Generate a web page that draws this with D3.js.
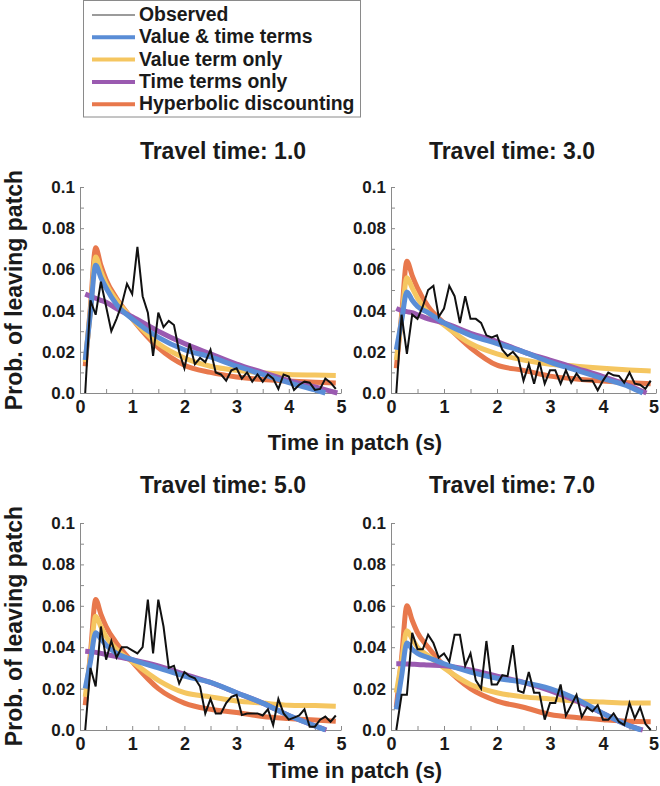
<!DOCTYPE html>
<html>
<head>
<meta charset="utf-8">
<script src="https://cdn.jsdelivr.net/npm/d3@7"></script>
<style>
  html, body { margin: 0; padding: 0; background: #fff; }
  svg { display: block; font-family: "Liberation Sans", Arial, Helvetica, sans-serif; }
</style>
</head>
<body>
<svg id="chart" width="660" height="786"></svg>
<script>
// ---------------- DATA ----------------
const panelTitles = ["Travel time: 1.0", "Travel time: 3.0", "Travel time: 5.0", "Travel time: 7.0"];
const seriesNames = ["Observed", "Value & time terms", "Value term only", "Time terms only", "Hyperbolic discounting"];

const obsTime = [0.1,0.2,0.3,0.4,0.5,0.6,0.7,0.8,0.9,1.0,1.1,1.2,1.3,1.4,1.5,1.6,1.7,1.8,1.9,2.0,
                 2.1,2.2,2.3,2.4,2.5,2.6,2.7,2.8,2.9,3.0,3.1,3.2,3.3,3.4,3.5,3.6,3.7,3.8,3.9,4.0,
                 4.1,4.2,4.3,4.4,4.5,4.6,4.7,4.8,4.9];

const observed1 = [0,0.045,0.038,0.054,0.042,0.030,0.036,0.043,0.053,0.048,0.071,0.047,0.039,0.018,0.039,0.032,0.035,0.033,0.020,0.012,
                   0.024,0.014,0.017,0.015,0.021,0.010,0.009,0.006,0.011,0.012,0.007,0.010,0.0055,0.009,0.0055,0.009,0.007,0.002,0.009,0.008,
                   0.0015,0.004,0.0055,0.005,0.0015,0.002,0.007,0.005,0.002];
const observed2 = [0,0.038,0.019,0.038,0.036,0.042,0.050,0.052,0.037,0.041,0.052,0.047,0.034,0.047,0.036,0.036,0.034,0.028,0.027,0.028,
                   0.021,0.018,0.020,0.017,0.006,0.014,0.0045,0.015,0.0045,0.011,0.011,0.0045,0.011,0.005,0.0094,0.006,0.006,0.006,0.0013,0.006,
                   0.0099,0.0086,0.0083,0.005,0.0099,0.0045,0.004,0.002,0.006];
const observed3 = [0,0.030,0.021,0.050,0.034,0.043,0.035,0.040,0.040,0.0385,0.037,0.040,0.063,0.037,0.063,0.050,0.030,0.031,0.0225,0.028,
                   0.026,0.025,0.021,0.008,0.015,0.008,0.008,0.013,0.016,0.017,0.0072,0.008,0.008,0.008,0.007,0.010,0.0024,0.015,0.008,0.005,
                   0.006,0.007,0.010,0.0016,0.0016,0.005,0.0065,0.004,0.007];
const observed4 = [0,0.017,0.017,0.047,0.039,0.039,0.046,0.042,0.035,0.037,0.033,0.046,0.046,0.031,0.037,0.024,0.020,0.043,0.022,0.022,
                   0.0265,0.026,0.041,0.019,0.018,0.028,0.018,0.018,0.005,0.013,0.013,0.022,0.007,0.012,0.017,0.0064,0.011,0.009,0.012,0.005,
                   0.005,0.008,0.004,0.0024,0.013,0.0056,0.011,0.003,0];

const modelTime = [0.1,0.2,0.3,0.4,0.5,0.7,1.0,1.5,2.0,2.5,3.0,3.5,4.0,4.5,4.9];

const hyperbolic1 = [0.013,0.042,0.0705,0.062,0.055,0.046,0.036,0.022,0.0135,0.010,0.0078,0.0065,0.0058,0.0052,0.0048];
const hyperbolic2 = [0.012,0.038,0.064,0.057,0.051,0.042,0.034,0.022,0.0135,0.011,0.0082,0.0068,0.0058,0.005,0.0045];
const hyperbolic3 = [0.012,0.037,0.063,0.056,0.050,0.042,0.033,0.020,0.013,0.010,0.0085,0.0065,0.0055,0.0048,0.0042];
const hyperbolic4 = [0.011,0.035,0.060,0.053,0.047,0.040,0.031,0.020,0.014,0.011,0.0075,0.006,0.005,0.0042,0.004];

const valueOnly1 = [0.015,0.040,0.066,0.059,0.053,0.045,0.036,0.024,0.017,0.013,0.011,0.0098,0.009,0.0087,0.0085];
const valueOnly2 = [0.016,0.036,0.056,0.051,0.046,0.039,0.033,0.024,0.019,0.016,0.014,0.013,0.012,0.0112,0.0107];
const valueOnly3 = [0.016,0.035,0.055,0.050,0.045,0.039,0.033,0.024,0.018,0.016,0.014,0.013,0.012,0.0118,0.0115];
const valueOnly4 = [0.018,0.033,0.048,0.044,0.040,0.036,0.030,0.022,0.018,0.016,0.015,0.014,0.0135,0.013,0.013];

// last point of these two series is where they reach zero
const valueTimeTime1 = [0.1,0.2,0.3,0.4,0.5,0.7,1.0,1.5,2.0,2.5,3.0,3.5,4.0,4.5,4.70];
const valueTimeTime2 = [0.1,0.2,0.3,0.4,0.5,0.7,1.0,1.5,2.0,2.5,3.0,3.5,4.0,4.5,4.75];
const valueTimeTime3 = [0.1,0.2,0.3,0.4,0.5,0.7,1.0,1.5,2.0,2.5,3.0,3.5,4.0,4.5,4.70];
const valueTimeTime4 = [0.1,0.2,0.3,0.4,0.5,0.7,1.0,1.5,2.0,2.5,3.0,3.5,4.0,4.5,4.72];
const valueTime1 = [0.016,0.039,0.062,0.056,0.051,0.043,0.036,0.027,0.021,0.0175,0.013,0.009,0.005,0.0015,0];
const valueTime2 = [0.021,0.035,0.049,0.045,0.042,0.039,0.034,0.028,0.024,0.020,0.015,0.011,0.007,0.003,0];
const valueTime3 = [0.020,0.033,0.047,0.044,0.041,0.037,0.034,0.030,0.026,0.023,0.018,0.013,0.007,0.002,0];
const valueTime4 = [0.010,0.026,0.042,0.039,0.037,0.035,0.032,0.028,0.025,0.023,0.020,0.015,0.008,0.002,0];

const timeOnlyTime1 = [0.1,0.2,0.3,0.4,0.5,0.7,1.0,1.5,2.0,2.5,3.0,3.5,4.0,4.5,4.93];
const timeOnlyTime2 = [0.1,0.2,0.3,0.4,0.5,0.7,1.0,1.5,2.0,2.5,3.0,3.5,4.0,4.5,4.82];
const timeOnlyTime3 = [0.1,0.2,0.3,0.4,0.5,0.7,1.0,1.5,2.0,2.5,3.0,3.5,4.0,4.5,4.72];
const timeOnlyTime4 = [0.1,0.2,0.3,0.4,0.5,0.7,1.0,1.5,2.0,2.5,3.0,3.5,4.0,4.5,4.75];
const timeOnly1 = [0.048,0.047,0.046,0.045,0.044,0.041,0.037,0.030,0.024,0.019,0.014,0.010,0.006,0.003,0];
const timeOnly2 = [0.041,0.040,0.0395,0.039,0.038,0.036,0.034,0.029,0.025,0.020,0.016,0.012,0.008,0.0035,0];
const timeOnly3 = [0.038,0.0378,0.0375,0.037,0.0365,0.0355,0.034,0.031,0.027,0.023,0.018,0.013,0.007,0.002,0];
const timeOnly4 = [0.032,0.032,0.0319,0.0318,0.0317,0.0314,0.031,0.029,0.026,0.023,0.019,0.014,0.008,0.002,0];

const xTickValues = [0,0.5,1,1.5,2,2.5,3,3.5,4,4.5,5];
const xTickLabels = ["0","","1","","2","","3","","4","","5"];
const yTickValues = [0,0.01,0.02,0.03,0.04,0.05,0.06,0.07,0.08,0.09,0.1];
const yTickLabels = ["0.0","","0.02","","0.04","","0.06","","0.08","","0.1"];

// ---------------- STYLE / LAYOUT ----------------
const colors = {
  observed: "#111111",
  observedLegend: "#7a7a7a",
  valueTime: "#5a8dd6",
  valueOnly: "#f5c660",
  timeOnly: "#9a5ab0",
  hyperbolic: "#e8784c"
};
const legendColors = [colors.observedLegend, colors.valueTime, colors.valueOnly, colors.timeOnly, colors.hyperbolic];

const panels = [
  { x0: 80,  x1: 341, yTop: 187, yBot: 393, titleX: 223, titleY: 159,
    obs: observed1, hyp: hyperbolic1, val: valueOnly1, vtT: valueTimeTime1, vt: valueTime1, toT: timeOnlyTime1, to: timeOnly1 },
  { x0: 391, x1: 656, yTop: 187, yBot: 393, titleX: 512, titleY: 159,
    obs: observed2, hyp: hyperbolic2, val: valueOnly2, vtT: valueTimeTime2, vt: valueTime2, toT: timeOnlyTime2, to: timeOnly2 },
  { x0: 80,  x1: 341, yTop: 523, yBot: 730, titleX: 223, titleY: 493,
    obs: observed3, hyp: hyperbolic3, val: valueOnly3, vtT: valueTimeTime3, vt: valueTime3, toT: timeOnlyTime3, to: timeOnly3 },
  { x0: 391, x1: 656, yTop: 523, yBot: 730, titleX: 512, titleY: 493,
    obs: observed4, hyp: hyperbolic4, val: valueOnly4, vtT: valueTimeTime4, vt: valueTime4, toT: timeOnlyTime4, to: timeOnly4 }
];

const svg = d3.select("#chart");
const FONT = '"Liberation Sans", Arial, Helvetica, sans-serif';

panels.forEach((p, i) => {
  const x = d3.scaleLinear().domain([0, 5]).range([p.x0, p.x1]);
  const y = d3.scaleLinear().domain([0, 0.1]).range([p.yBot, p.yTop]);
  const g = svg.append("g");

  // axes
  const xAxis = d3.axisBottom(x).tickValues(xTickValues)
    .tickFormat((d, k) => xTickLabels[k]).tickSizeInner(-4).tickSizeOuter(0).tickPadding(7);
  const yAxis = d3.axisLeft(y).tickValues(yTickValues)
    .tickFormat((d, k) => yTickLabels[k]).tickSizeInner(-4).tickSizeOuter(0).tickPadding(5);

  const gx = g.append("g").attr("transform", `translate(0,${p.yBot})`).call(xAxis);
  const gy = g.append("g").attr("transform", `translate(${p.x0},0)`).call(yAxis);
  [gx, gy].forEach(a => {
    a.select(".domain").attr("stroke", "#8a8a8a").attr("stroke-width", 1);
    a.selectAll(".tick line").attr("stroke", "#8a8a8a").attr("stroke-width", 1);
    a.selectAll(".tick text").attr("fill", "#1a1a1a").attr("font-family", FONT)
      .attr("font-weight", "bold");
  });
  gx.selectAll(".tick text").attr("font-size", 18);
  gy.selectAll(".tick text").attr("font-size", 17);
  // keep the last x label inside the page on the right-hand panels
  if (p.x1 > 650) gx.selectAll(".tick text").filter(d => d === 5).attr("dx", -2.5);

  // model curves
  const modelLine = d3.line().x(d => x(d[0])).y(d => y(d[1])).curve(d3.curveMonotoneX);
  const curves = [
    { t: modelTime, v: p.hyp, c: colors.hyperbolic },
    { t: modelTime, v: p.val, c: colors.valueOnly },
    { t: p.toT, v: p.to, c: colors.timeOnly },
    { t: p.vtT, v: p.vt, c: colors.valueTime }
  ];
  curves.forEach(cv => {
    g.append("path")
      .datum(cv.t.map((t, k) => [t, cv.v[k]]))
      .attr("d", modelLine)
      .attr("fill", "none")
      .attr("stroke", cv.c)
      .attr("stroke-width", 5)
      .attr("stroke-linejoin", "round");
  });

  // observed
  const obsLine = d3.line().x(d => x(d[0])).y(d => y(d[1]));
  g.append("path")
    .datum(obsTime.map((t, k) => [t, p.obs[k]]))
    .attr("d", obsLine)
    .attr("fill", "none")
    .attr("stroke", colors.observed)
    .attr("stroke-width", 2)
    .attr("stroke-linejoin", "miter");

  // title
  svg.append("text")
    .attr("x", p.titleX).attr("y", p.titleY)
    .attr("text-anchor", "middle")
    .attr("font-family", FONT).attr("font-weight", "bold").attr("font-size", 23)
    .attr("fill", "#1a1a1a")
    .text(panelTitles[i]);
});

// axis labels
[290, 626].forEach(cy => {
  svg.append("text")
    .attr("transform", `translate(22,${cy}) rotate(-90)`)
    .attr("text-anchor", "middle")
    .attr("font-family", FONT).attr("font-weight", "bold").attr("font-size", 23)
    .attr("fill", "#1a1a1a")
    .text("Prob. of leaving patch");
});
[450, 778].forEach(by => {
  svg.append("text")
    .attr("x", 355).attr("y", by)
    .attr("text-anchor", "middle")
    .attr("font-family", FONT).attr("font-weight", "bold").attr("font-size", 22)
    .attr("fill", "#1a1a1a")
    .text("Time in patch (s)");
});

// legend
const lg = svg.append("g");
lg.append("rect").attr("x", 83.5).attr("y", 0.5).attr("width", 277).attr("height", 116.5)
  .attr("fill", "#fff").attr("stroke", "#8a8a8a").attr("stroke-width", 1);
seriesNames.forEach((name, k) => {
  const base = 21 + k * 22.3;
  lg.append("line")
    .attr("x1", 92).attr("x2", 135).attr("y1", base - 6).attr("y2", base - 6)
    .attr("stroke", legendColors[k]).attr("stroke-width", k === 0 ? 1.5 : 4);
  lg.append("text")
    .attr("x", 139).attr("y", base)
    .attr("font-family", FONT).attr("font-weight", "bold").attr("font-size", 19.4)
    .attr("fill", "#1a1a1a")
    .text(name);
});
</script>
</body>
</html>
